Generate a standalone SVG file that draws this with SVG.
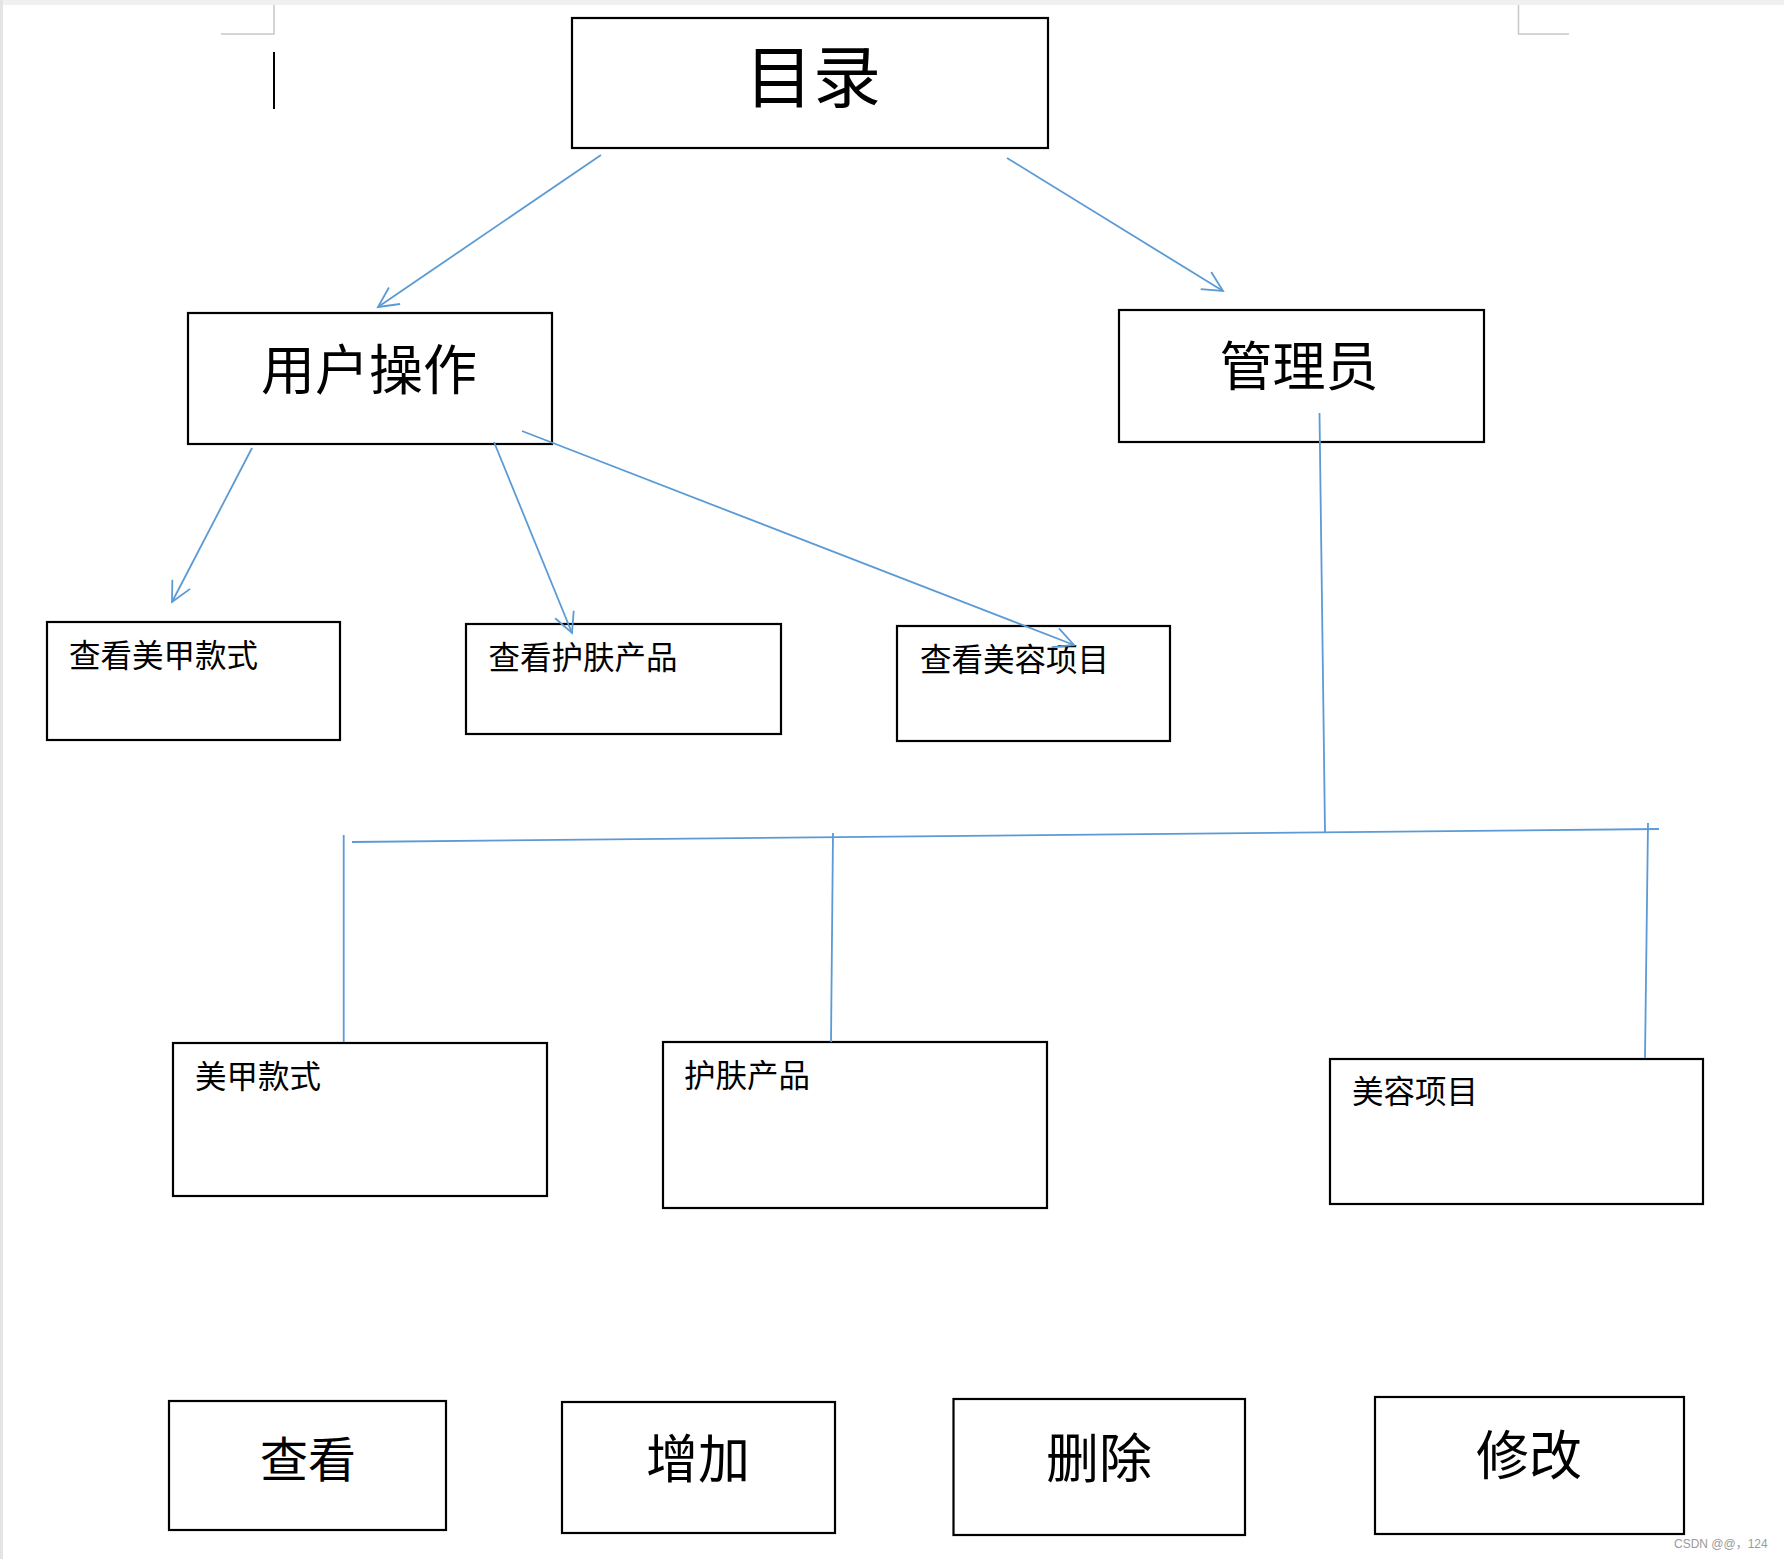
<svg xmlns="http://www.w3.org/2000/svg" width="1784" height="1559" viewBox="0 0 1784 1559">
<defs>
<style>
.box{fill:#fff;stroke:#000;stroke-width:2.2}
.lbl{font-family:"Noto Sans CJK SC","Noto Sans CJK JP",sans-serif;fill:#000;dominant-baseline:central}
.big{text-anchor:middle}
.sm{font-size:31.5px}
.con{stroke:#5b9bd5;stroke-width:1.8;fill:none}
.guide{stroke:#c8c8c8;stroke-width:1.5;fill:none}
</style>
<marker id="arr" markerUnits="userSpaceOnUse" markerWidth="24" markerHeight="24" viewBox="0 0 24 24" refX="21" refY="11" orient="auto">
<path d="M1,1 L21,11 L1,21" fill="none" stroke="#5b9bd5" stroke-width="1.8"/>
</marker>
</defs>
<rect x="0" y="0" width="1784" height="1559" fill="#fff"/>
<rect x="0" y="0" width="1784" height="5" fill="#f0f0f0"/>
<rect x="0" y="0" width="3" height="1559" fill="#e4e4e4"/>
<g id="page-marks">
<path class="guide" d="M274,5 V34 H221"/>
<path class="guide" d="M1518.5,5 V34 H1569"/>
<line x1="274" y1="52" x2="274" y2="109" stroke="#000" stroke-width="2"/>
</g>
<g id="n-mulu">
<rect class="box" x="572" y="18" width="476" height="130"/>
<text class="lbl big" x="813" y="72" font-size="68">目录</text>
</g>
<g id="n-yonghu">
<rect class="box" x="188" y="313" width="364" height="131"/>
<text class="lbl big" x="369" y="366" font-size="54">用户操作</text>
</g>
<g id="n-guanli">
<rect class="box" x="1119" y="310" width="365" height="132"/>
<text class="lbl big" x="1299" y="363" font-size="53">管理员</text>
</g>
<g id="n-ck-mj">
<rect class="box" x="47" y="622" width="293" height="118"/>
<text class="lbl sm" x="69" y="653">查看美甲款式</text>
</g>
<g id="n-ck-hf">
<rect class="box" x="466" y="624" width="315" height="110"/>
<text class="lbl sm" x="488.5" y="655">查看护肤产品</text>
</g>
<g id="n-ck-mr">
<rect class="box" x="897" y="626" width="273" height="115"/>
<text class="lbl sm" x="920" y="657">查看美容项目</text>
</g>
<g id="n-mj">
<rect class="box" x="173" y="1043" width="374" height="153"/>
<text class="lbl sm" x="195" y="1074">美甲款式</text>
</g>
<g id="n-hf">
<rect class="box" x="663" y="1042" width="384" height="166"/>
<text class="lbl sm" x="684" y="1073">护肤产品</text>
</g>
<g id="n-mr">
<rect class="box" x="1330" y="1059" width="373" height="145"/>
<text class="lbl sm" x="1352" y="1089">美容项目</text>
</g>
<g id="n-chakan">
<rect class="box" x="169" y="1401" width="277" height="129"/>
<text class="lbl big" x="308" y="1456" font-size="48">查看</text>
</g>
<g id="n-zengjia">
<rect class="box" x="562" y="1402" width="273" height="131"/>
<text class="lbl big" x="698" y="1455.5" font-size="52">增加</text>
</g>
<g id="n-shanchu">
<rect class="box" x="953.5" y="1399" width="291.5" height="136"/>
<text class="lbl big" x="1099" y="1455" font-size="53">删除</text>
</g>
<g id="n-xiugai">
<rect class="box" x="1375" y="1397" width="309" height="137"/>
<text class="lbl big" x="1529" y="1452" font-size="53">修改</text>
</g>
<g id="connectors">
<line class="con" x1="601" y1="155" x2="378" y2="307" marker-end="url(#arr)"/>
<line class="con" x1="1007" y1="158" x2="1223" y2="291" marker-end="url(#arr)"/>
<line class="con" x1="252" y1="448" x2="172" y2="602" marker-end="url(#arr)"/>
<line class="con" x1="494" y1="442" x2="572" y2="633" marker-end="url(#arr)"/>
<line class="con" x1="522" y1="431" x2="1074" y2="645" marker-end="url(#arr)"/>
<line class="con" x1="1319.5" y1="413" x2="1325" y2="832"/>
<line class="con" x1="352" y1="842" x2="1659" y2="829" stroke-width="2.6"/>
<line class="con" x1="343.7" y1="835" x2="343.7" y2="1042"/>
<line class="con" x1="833" y1="833" x2="831" y2="1042"/>
<line class="con" x1="1648" y1="823" x2="1645" y2="1058"/>
</g>
<text x="1674" y="1548" font-family="Liberation Sans, Noto Sans CJK SC, sans-serif" font-size="12" fill="#9a9a9a">CSDN @@，124</text>
</svg>
